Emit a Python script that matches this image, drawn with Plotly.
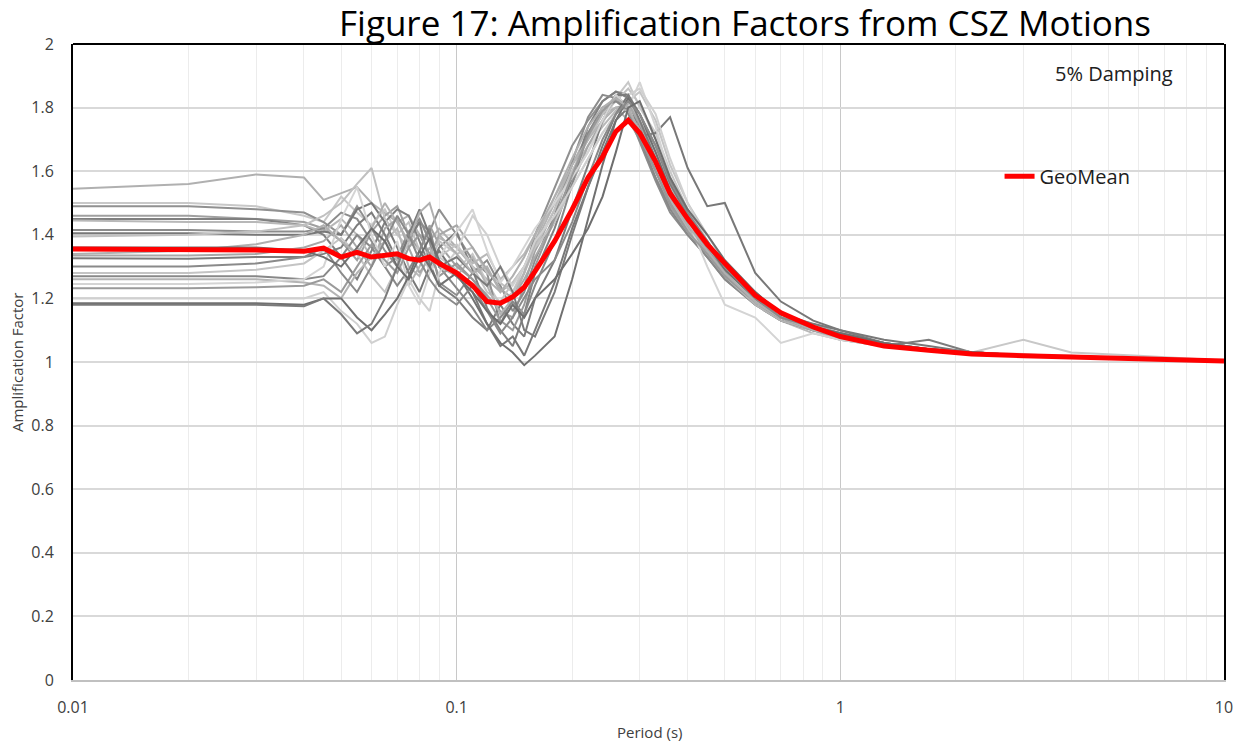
import plotly.graph_objects as go

# Spectral periods (s) at which the amplification factors are sampled
periods = [0.01, 0.02, 0.03, 0.04, 0.045, 0.05, 0.055, 0.06, 0.065, 0.07, 0.075,
           0.08, 0.085, 0.09, 0.1, 0.11, 0.12, 0.13, 0.14, 0.15, 0.16, 0.18,
           0.2, 0.22, 0.24, 0.26, 0.28, 0.3, 0.33, 0.36, 0.4, 0.45, 0.5, 0.6,
           0.7, 0.85, 1.0, 1.3, 1.7, 2.2, 3.0, 4.0, 6.0, 10.0]

# Individual CSZ motion amplification factors
motion_01 = [1.545, 1.56, 1.59, 1.58, 1.51, 1.53, 1.55, 1.50, 1.47, 1.44, 1.46, 1.40, 1.38, 1.42,
             1.36, 1.30, 1.26, 1.22, 1.25, 1.30, 1.38, 1.52, 1.62, 1.72, 1.78, 1.80, 1.76, 1.70,
             1.60, 1.50, 1.42, 1.33, 1.27, 1.20, 1.15, 1.12, 1.09, 1.06, 1.04, 1.03, 1.02, 1.015, 1.01, 1.005]
motion_02 = [1.50, 1.50, 1.49, 1.46, 1.44, 1.52, 1.47, 1.43, 1.48, 1.40, 1.36, 1.45, 1.38, 1.33,
             1.29, 1.34, 1.25, 1.18, 1.22, 1.30, 1.35, 1.45, 1.58, 1.66, 1.75, 1.83, 1.88, 1.80,
             1.72, 1.60, 1.48, 1.38, 1.30, 1.21, 1.15, 1.11, 1.08, 1.05, 1.04, 1.03, 1.07, 1.03, 1.02, 1.005]
motion_03 = [1.49, 1.49, 1.48, 1.47, 1.44, 1.40, 1.49, 1.42, 1.35, 1.30, 1.38, 1.44, 1.41, 1.48,
             1.40, 1.32, 1.28, 1.12, 1.20, 1.28, 1.40, 1.55, 1.68, 1.76, 1.82, 1.85, 1.84, 1.74,
             1.62, 1.52, 1.44, 1.36, 1.29, 1.20, 1.14, 1.11, 1.09, 1.06, 1.04, 1.03, 1.02, 1.015, 1.01, 1.005]
motion_04 = [1.46, 1.46, 1.45, 1.44, 1.42, 1.38, 1.32, 1.41, 1.46, 1.49, 1.40, 1.35, 1.43, 1.37,
             1.30, 1.26, 1.21, 1.16, 1.14, 1.24, 1.35, 1.48, 1.62, 1.70, 1.78, 1.84, 1.80, 1.70,
             1.58, 1.49, 1.41, 1.34, 1.27, 1.19, 1.14, 1.10, 1.08, 1.05, 1.04, 1.03, 1.02, 1.015, 1.01, 1.005]
motion_05 = [1.45, 1.45, 1.45, 1.43, 1.40, 1.33, 1.26, 1.35, 1.44, 1.48, 1.46, 1.38, 1.30, 1.36,
             1.41, 1.29, 1.17, 1.10, 1.05, 1.15, 1.28, 1.42, 1.58, 1.74, 1.82, 1.85, 1.83, 1.72,
             1.60, 1.50, 1.42, 1.35, 1.27, 1.19, 1.14, 1.10, 1.08, 1.05, 1.04, 1.03, 1.02, 1.015, 1.01, 1.005]
motion_06 = [1.445, 1.44, 1.44, 1.43, 1.41, 1.45, 1.40, 1.33, 1.38, 1.42, 1.30, 1.27, 1.34, 1.39,
             1.36, 1.31, 1.34, 1.26, 1.30, 1.34, 1.40, 1.50, 1.60, 1.68, 1.74, 1.79, 1.82, 1.76,
             1.66, 1.55, 1.46, 1.37, 1.29, 1.19, 1.13, 1.09, 1.07, 1.05, 1.04, 1.03, 1.02, 1.015, 1.01, 1.005]
motion_07 = [1.415, 1.415, 1.41, 1.41, 1.42, 1.47, 1.45, 1.38, 1.30, 1.33, 1.41, 1.45, 1.38, 1.25,
             1.21, 1.28, 1.32, 1.24, 1.16, 1.22, 1.32, 1.46, 1.63, 1.77, 1.84, 1.83, 1.78, 1.69,
             1.57, 1.47, 1.40, 1.33, 1.26, 1.18, 1.13, 1.10, 1.08, 1.05, 1.035, 1.025, 1.02, 1.015, 1.01, 1.005]
motion_08 = [1.405, 1.405, 1.40, 1.40, 1.41, 1.40, 1.48, 1.50, 1.44, 1.36, 1.28, 1.22, 1.30, 1.35,
             1.27, 1.22, 1.12, 1.05, 1.08, 1.02, 1.10, 1.25, 1.42, 1.55, 1.66, 1.76, 1.80, 1.71,
             1.72, 1.77, 1.61, 1.49, 1.50, 1.28, 1.19, 1.13, 1.10, 1.07, 1.05, 1.03, 1.02, 1.015, 1.01, 1.005]
motion_09 = [1.395, 1.40, 1.41, 1.43, 1.46, 1.50, 1.56, 1.61, 1.45, 1.40, 1.44, 1.35, 1.31, 1.38,
             1.34, 1.36, 1.28, 1.25, 1.22, 1.28, 1.36, 1.48, 1.60, 1.70, 1.78, 1.82, 1.86, 1.81,
             1.70, 1.58, 1.47, 1.38, 1.30, 1.20, 1.15, 1.11, 1.09, 1.06, 1.04, 1.03, 1.02, 1.015, 1.01, 1.005]
motion_10 = [1.335, 1.335, 1.34, 1.36, 1.38, 1.43, 1.36, 1.30, 1.42, 1.45, 1.36, 1.28, 1.33, 1.40,
             1.43, 1.36, 1.29, 1.23, 1.20, 1.26, 1.33, 1.44, 1.56, 1.68, 1.76, 1.80, 1.81, 1.75,
             1.64, 1.53, 1.44, 1.36, 1.28, 1.19, 1.14, 1.11, 1.08, 1.05, 1.035, 1.025, 1.02, 1.015, 1.01, 1.005]
motion_11 = [1.326, 1.325, 1.33, 1.33, 1.34, 1.36, 1.43, 1.47, 1.40, 1.32, 1.39, 1.44, 1.31, 1.24,
             1.20, 1.14, 1.10, 1.18, 1.12, 1.08, 1.20, 1.32, 1.48, 1.62, 1.76, 1.84, 1.84, 1.76,
             1.64, 1.52, 1.43, 1.35, 1.28, 1.19, 1.14, 1.10, 1.09, 1.05, 1.07, 1.03, 1.02, 1.015, 1.01, 1.005]
motion_12 = [1.28, 1.28, 1.29, 1.31, 1.35, 1.39, 1.34, 1.27, 1.22, 1.30, 1.38, 1.35, 1.29, 1.33,
             1.37, 1.30, 1.22, 1.19, 1.25, 1.30, 1.36, 1.44, 1.55, 1.64, 1.72, 1.78, 1.82, 1.85,
             1.76, 1.62, 1.50, 1.40, 1.31, 1.20, 1.14, 1.10, 1.07, 1.05, 1.04, 1.03, 1.02, 1.02, 1.01, 1.005]
motion_13 = [1.27, 1.27, 1.27, 1.26, 1.27, 1.33, 1.40, 1.36, 1.30, 1.24, 1.29, 1.35, 1.42, 1.30,
             1.23, 1.17, 1.10, 1.14, 1.19, 1.15, 1.24, 1.38, 1.56, 1.72, 1.80, 1.82, 1.79, 1.70,
             1.58, 1.48, 1.40, 1.33, 1.26, 1.18, 1.13, 1.10, 1.08, 1.05, 1.04, 1.03, 1.02, 1.015, 1.01, 1.005]
motion_14 = [1.26, 1.26, 1.26, 1.25, 1.24, 1.20, 1.28, 1.33, 1.38, 1.32, 1.24, 1.30, 1.36, 1.30,
             1.27, 1.33, 1.24, 1.15, 1.20, 1.28, 1.37, 1.50, 1.62, 1.70, 1.76, 1.80, 1.79, 1.73,
             1.62, 1.51, 1.42, 1.34, 1.27, 1.18, 1.13, 1.10, 1.07, 1.05, 1.035, 1.03, 1.02, 1.015, 1.01, 1.005]
motion_15 = [1.245, 1.245, 1.25, 1.26, 1.30, 1.45, 1.55, 1.40, 1.30, 1.38, 1.24, 1.18, 1.28, 1.33,
             1.41, 1.48, 1.35, 1.25, 1.30, 1.36, 1.42, 1.50, 1.58, 1.66, 1.76, 1.84, 1.80, 1.88,
             1.74, 1.58, 1.45, 1.30, 1.18, 1.14, 1.06, 1.09, 1.07, 1.05, 1.04, 1.03, 1.02, 1.02, 1.01, 1.005]
motion_16 = [1.232, 1.232, 1.235, 1.24, 1.26, 1.22, 1.30, 1.37, 1.32, 1.28, 1.36, 1.40, 1.34, 1.27,
             1.31, 1.26, 1.20, 1.13, 1.10, 1.18, 1.30, 1.45, 1.59, 1.71, 1.79, 1.83, 1.80, 1.71,
             1.60, 1.50, 1.41, 1.34, 1.27, 1.19, 1.14, 1.10, 1.08, 1.05, 1.04, 1.03, 1.02, 1.015, 1.01, 1.005]
motion_17 = [1.20, 1.20, 1.20, 1.20, 1.22, 1.16, 1.12, 1.06, 1.08, 1.18, 1.26, 1.20, 1.16, 1.28,
             1.35, 1.46, 1.40, 1.30, 1.24, 1.30, 1.38, 1.46, 1.55, 1.64, 1.72, 1.78, 1.84, 1.86,
             1.78, 1.64, 1.50, 1.38, 1.29, 1.19, 1.14, 1.10, 1.08, 1.05, 1.04, 1.03, 1.025, 1.015, 1.01, 1.005]
motion_18 = [1.185, 1.185, 1.185, 1.18, 1.20, 1.20, 1.14, 1.10, 1.15, 1.20, 1.27, 1.35, 1.30, 1.24,
             1.28, 1.20, 1.12, 1.06, 1.03, 0.99, 1.02, 1.08, 1.26, 1.45, 1.62, 1.76, 1.83, 1.78,
             1.66, 1.54, 1.45, 1.37, 1.29, 1.20, 1.14, 1.10, 1.08, 1.05, 1.04, 1.03, 1.02, 1.015, 1.01, 1.005]
motion_19 = [1.18, 1.18, 1.18, 1.175, 1.20, 1.15, 1.09, 1.12, 1.20, 1.30, 1.40, 1.48, 1.40, 1.30,
             1.33, 1.28, 1.24, 1.30, 1.22, 1.10, 1.08, 1.22, 1.40, 1.55, 1.68, 1.78, 1.84, 1.78,
             1.68, 1.56, 1.46, 1.38, 1.30, 1.22, 1.15, 1.12, 1.10, 1.06, 1.04, 1.03, 1.02, 1.015, 1.01, 1.005]
motion_20 = [1.34, 1.35, 1.37, 1.40, 1.43, 1.38, 1.34, 1.42, 1.50, 1.44, 1.38, 1.47, 1.50, 1.40,
             1.34, 1.28, 1.30, 1.22, 1.27, 1.33, 1.40, 1.52, 1.64, 1.74, 1.80, 1.83, 1.80, 1.72,
             1.62, 1.52, 1.43, 1.35, 1.28, 1.19, 1.14, 1.10, 1.08, 1.05, 1.04, 1.03, 1.02, 1.015, 1.01, 1.005]
motion_21 = [1.30, 1.30, 1.31, 1.33, 1.36, 1.28, 1.22, 1.30, 1.38, 1.46, 1.40, 1.32, 1.26, 1.22,
             1.18, 1.24, 1.16, 1.09, 1.14, 1.20, 1.26, 1.32, 1.44, 1.58, 1.70, 1.78, 1.82, 1.78,
             1.68, 1.57, 1.47, 1.38, 1.30, 1.20, 1.14, 1.11, 1.09, 1.06, 1.04, 1.03, 1.02, 1.015, 1.01, 1.005]
motion_22 = [1.36, 1.36, 1.36, 1.35, 1.33, 1.30, 1.36, 1.42, 1.38, 1.30, 1.26, 1.33, 1.39, 1.32,
             1.27, 1.22, 1.16, 1.12, 1.18, 1.14, 1.20, 1.26, 1.34, 1.42, 1.52, 1.66, 1.80, 1.82,
             1.70, 1.58, 1.48, 1.40, 1.32, 1.22, 1.15, 1.11, 1.09, 1.06, 1.04, 1.03, 1.02, 1.015, 1.01, 1.005]

# Geometric mean of all motions
geomean = [1.355, 1.355, 1.352, 1.348, 1.358, 1.33, 1.345, 1.33, 1.335, 1.34, 1.325, 1.32, 1.33, 1.31,
           1.28, 1.24, 1.19, 1.185, 1.205, 1.235, 1.285, 1.38, 1.48, 1.58, 1.645, 1.725, 1.76, 1.72,
           1.63, 1.53, 1.45, 1.37, 1.31, 1.21, 1.155, 1.11, 1.08, 1.05, 1.037, 1.025, 1.02, 1.015, 1.01, 1.003]

motions = [motion_01, motion_02, motion_03, motion_04, motion_05, motion_06, motion_07, motion_08,
           motion_09, motion_10, motion_11, motion_12, motion_13, motion_14, motion_15, motion_16,
           motion_17, motion_18, motion_19, motion_20, motion_21, motion_22]
motion_colors = ["#b0b0b0", "#c8c8c8", "#909090", "#a0a0a0", "#808080", "#b8b8b8", "#8c8c8c",
                 "#787878", "#c0c0c0", "#a8a8a8", "#7c7c7c", "#c4c4c4", "#888888", "#b4b4b4",
                 "#d4d4d4", "#9a9a9a", "#d0d0d0", "#707070", "#7a7a7a", "#b0b0b0", "#8a8a8a",
                 "#6e6e6e"]

FONT = "Open Sans"
TEXT = "#404040"

fig = go.Figure()
for vals, col in zip(motions, motion_colors):
    fig.add_trace(go.Scatter(x=periods, y=vals, mode="lines",
                             line=dict(color=col, width=2), showlegend=False,
                             hoverinfo="skip"))

fig.add_trace(go.Scatter(x=periods, y=geomean, mode="lines", name="GeoMean",
                         line=dict(color="#ff0000", width=5)))

fig.update_layout(
    width=1246, height=742,
    margin=dict(l=73, r=22, t=44, b=62, autoexpand=False),
    paper_bgcolor="white", plot_bgcolor="white",
    font=dict(family=FONT, color=TEXT, size=16),
    legend=dict(x=0.805, y=0.792, xanchor="left", yanchor="middle",
                bgcolor="rgba(0,0,0,0)", font=dict(size=20, color="#202020"),
                itemwidth=30),
    annotations=[
        dict(text="Figure 17: Amplification Factors from CSZ Motions",
             xref="paper", yref="paper", x=0.584, y=1.0, xanchor="center",
             yanchor="bottom", yshift=-4, showarrow=False,
             font=dict(size=35, color="#000000", family=FONT)),
        dict(text="5% Damping", xref="paper", yref="paper",
             x=0.904, y=0.953, xanchor="center", yanchor="middle",
             showarrow=False, font=dict(size=20, color="#202020")),
        # axis titles
        dict(text="Period (s)", xref="paper", yref="paper", x=0.501, y=0,
             xanchor="center", yanchor="middle", yshift=-52, showarrow=False,
             font=dict(size=15, color=TEXT)),
        dict(text="Amplification Factor", xref="paper", yref="paper", x=0, y=0.5,
             xanchor="center", yanchor="middle", xshift=-56, textangle=-90,
             showarrow=False, font=dict(size=15, color=TEXT)),
    ],
)

fig.update_xaxes(
    type="log", range=[-2, 1], dtick=1, automargin=False,
    tickvals=[0.01, 0.1, 1, 10], ticktext=["0.01", "0.1", "1", "10"],
    showgrid=True, gridcolor="#c8c8c8", gridwidth=1.2,
    minor=dict(dtick="D1", showgrid=True, gridcolor="#ececec", gridwidth=1),
    showline=True, linecolor="#c0c0c0", linewidth=2,
    ticks="", ticklabelstandoff=12,
    tickfont=dict(size=16, color=TEXT),
    zeroline=False,
)
fig.update_yaxes(
    range=[0, 2], dtick=0.2, tickformat="~g", automargin=False,
    showgrid=True, gridcolor="#d9d9d9", gridwidth=1.5,
    showline=True, linecolor="#000000", linewidth=2, mirror=True,
    ticks="", ticklabelstandoff=14,
    tickfont=dict(size=16, color=TEXT),
    zeroline=False,
)

# black frame along the top edge of the plotting area
fig.add_shape(type="line", xref="paper", yref="paper", x0=0, x1=1, y0=1, y1=1,
              line=dict(color="#000000", width=2))

fig.write_html("out.html")
